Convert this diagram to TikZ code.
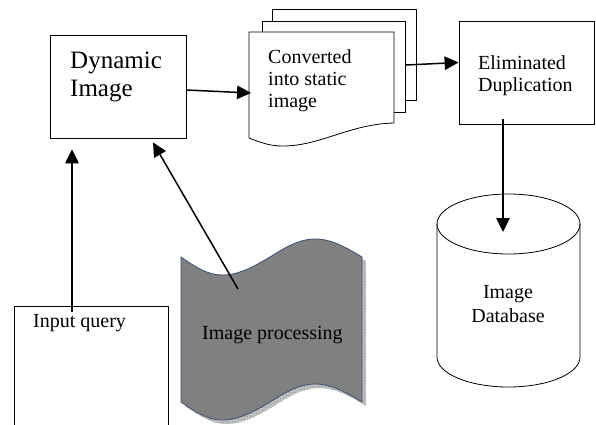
\documentclass[tikz,border=0pt]{standalone}
\usepackage{fontspec}
\setmainfont{Liberation Serif}
\usetikzlibrary{arrows.meta,patterns}

\definecolor{tapeedge}{RGB}{60,80,110}
\tikzset{
  box/.style={draw, line width=0.8pt, inner sep=0pt},
  lbl/.style={inner sep=0pt, align=left, font=\fontsize{20}{22}\selectfont},
  arr/.style={line width=1.5pt, -{Triangle[length=14pt,width=13.5pt]}},
}

\begin{document}
\begin{tikzpicture}[x=1pt,y=-1pt]
  \useasboundingbox (0,0) rectangle (596,424);
  % boxes
  \node[box, minimum width=136pt, minimum height=103pt] (dyn) at (118,86.5) {};
  \node[lbl, anchor=north west, font=\fontsize{25}{28}\selectfont] (dyntxt) at (70,52) {Dynamic\\Image};
  \node[box, minimum width=135pt, minimum height=103pt] (elim) at (526.5,72.5) {};
  \node[lbl, anchor=north west] (elimtxt) at (478,55.4) {Eliminated\\Duplication};
  \node[box, minimum width=154pt, minimum height=124pt] (query) at (91,368) {};
  \node[lbl, anchor=north west] (querytxt) at (33,314.6) {Input query};
  % stacked pages
  \draw[fill=white, line width=0.8pt] (272,9) rectangle (416,100);
  \draw[fill=white, line width=0.8pt] (262,21) rectangle (405,112);
  \draw[fill=white, line width=0.8pt] (249,32) -- (394,32) -- (394,123) .. controls (350,124) and (320,146) .. (283,146) .. controls (270,146) and (262,143) .. (249,138) -- cycle;
  \node[lbl, anchor=north west] (conv) at (268,49.4) {Converted\\into static\\image};
  \coordinate (convin) at (251,93); \coordinate (convout) at (406,65);
  % punched tape with shadow
  \begin{scope}[shift={(4,4)}]
    \fill[gray!45] (181,257) sin (222,275) cos (270,257) sin (315,239) cos (362,257) -- (362,402) sin (315,384) cos (270,402) sin (222,420) cos (181,402) -- cycle;
    \fill[pattern=crosshatch dots, pattern color=gray] (181,257) sin (222,275) cos (270,257) sin (315,239) cos (362,257) -- (362,402) sin (315,384) cos (270,402) sin (222,420) cos (181,402) -- cycle;
  \end{scope}
  \filldraw[fill=gray, draw=tapeedge, line width=0.8pt] (181,257) sin (222,275) cos (270,257) sin (315,239) cos (362,257) -- (362,402) sin (315,384) cos (270,402) sin (222,420) cos (181,402) -- cycle;
  \node[lbl, anchor=north west] (proc) at (202,326) {Image processing};
  \coordinate (procout) at (238,289);
  % database
  \draw[line width=0.8pt] (437,224) -- (437,357) arc[start angle=180, end angle=0, x radius=71.5, y radius=30] -- (580,224);
  \draw[line width=0.8pt] (508.5,224) ellipse[x radius=71.5, y radius=30];
  \node[lbl, anchor=north, align=center, font=\fontsize{20}{24}\selectfont] (db) at (508,285.4) {Image\\Database};
  \coordinate (dbin) at (503,232);
  % arrows
  \draw[arr] ([yshift=-3.5pt]dyn.east) -- (convin);
  \draw[arr] (convout) -- ([yshift=10pt]elim.west);
  \draw[arr] ([xshift=-23.5pt,yshift=5pt]elim.south) -- (dbin);
  \draw[arr] ([xshift=-19pt,yshift=-6pt]query.north) -- ([xshift=-46pt,yshift=-11pt]dyn.south);
  \draw[arr] (procout) -- ([xshift=35pt,yshift=-4pt]dyn.south);
\end{tikzpicture}
\end{document}
